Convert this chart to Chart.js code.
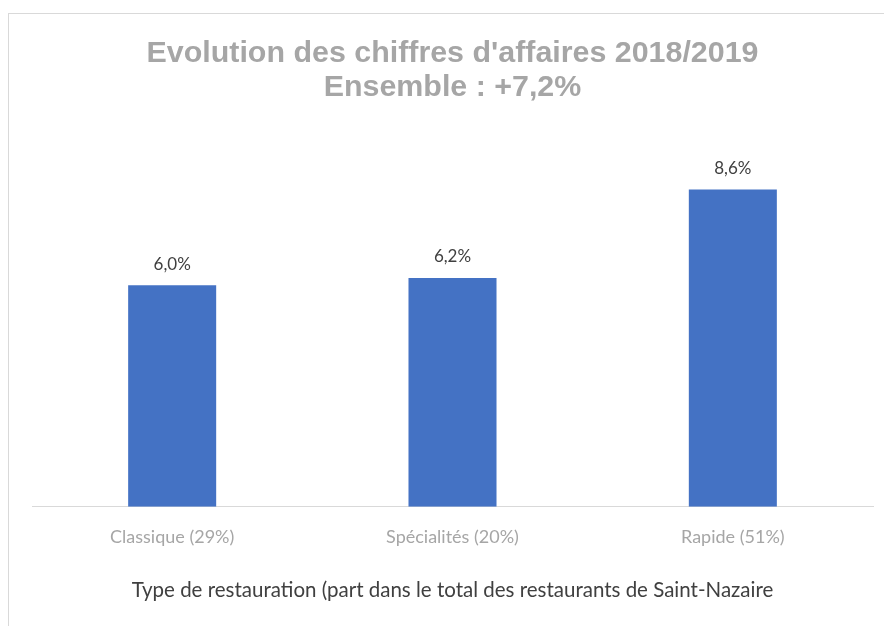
<!DOCTYPE html>
<html>
<head>
<meta charset="utf-8">
<script src="https://cdn.jsdelivr.net/npm/chart.js@4"></script>
<style>
  html, body { margin: 0; padding: 0; background: #fff; }
  #wrap { width: 884px; height: 626px; }
</style>
</head>
<body>
<div id="wrap"><canvas id="caChart" width="884" height="626"></canvas></div>
<script>
const categories = ["Classique (29%)", "Spécialités (20%)", "Rapide (51%)"];
const evolution = [6.0, 6.2, 8.6];
const titleLines = ["Evolution des chiffres d'affaires 2018/2019", "Ensemble : +7,2%"];
const axisTitle = "Type de restauration (part dans le total des restaurants de Saint-Nazaire";

const fmt = (v) => v.toFixed(1).replace(".", ",") + "%";

// light frame like the excel chart area
const frame = {
  id: "frame",
  beforeDraw(chart) {
    const ctx = chart.ctx;
    ctx.save();
    ctx.fillStyle = "#fff";
    ctx.fillRect(0, 0, chart.width, chart.height);
    ctx.strokeStyle = "#d9d9d9";
    ctx.lineWidth = 1;
    ctx.strokeRect(8.5, 13.5, chart.width + 20, chart.height + 20);
    ctx.restore();
  },
};

// value labels on top of the bars
const barLabels = {
  id: "barLabels",
  afterDatasetsDraw(chart) {
    const ctx = chart.ctx;
    const meta = chart.getDatasetMeta(0);
    ctx.save();
    ctx.font = "17px Lato";
    ctx.fillStyle = "#404040";
    ctx.textAlign = "center";
    ctx.textBaseline = "middle";
    meta.data.forEach((bar, i) => {
      ctx.fillText(fmt(evolution[i]), bar.x, bar.y - 21);
    });
    ctx.restore();
  },
};

new Chart("caChart", {
  type: "bar",
  data: {
    labels: categories,
    datasets: [
      {
        data: evolution,
        backgroundColor: "#4472c4",
        categoryPercentage: 1,
        barPercentage: 0.314,
      },
    ],
  },
  options: {
    responsive: false,
    animation: false,
    layout: { padding: { left: 32, right: 11, top: 0, bottom: 23 } },
    plugins: {
      legend: { display: false },
      tooltip: { enabled: false },
      title: {
        display: true,
        text: titleLines,
        color: "#a6a6a6",
        font: { family: "'Liberation Sans', Arial", size: 30.4, weight: "bold", lineHeight: 1.13 },
        padding: { top: 36, bottom: 33 },
      },
    },
    scales: {
      x: {
        grid: { display: false, drawTicks: false },
        border: { display: true, color: "#d9d9d9", width: 1 },
        ticks: { color: "#a6a6a6", font: { family: "Lato", size: 18 }, padding: 20 },
        title: {
          display: true,
          text: axisTitle,
          color: "#404040",
          font: { family: "Lato", size: 20.5 },
          padding: { top: 10, bottom: 0 },
        },
      },
      y: {
        display: false,
        min: 0,
        max: 10,
      },
    },
  },
  plugins: [frame, barLabels],
});
</script>
</body>
</html>
